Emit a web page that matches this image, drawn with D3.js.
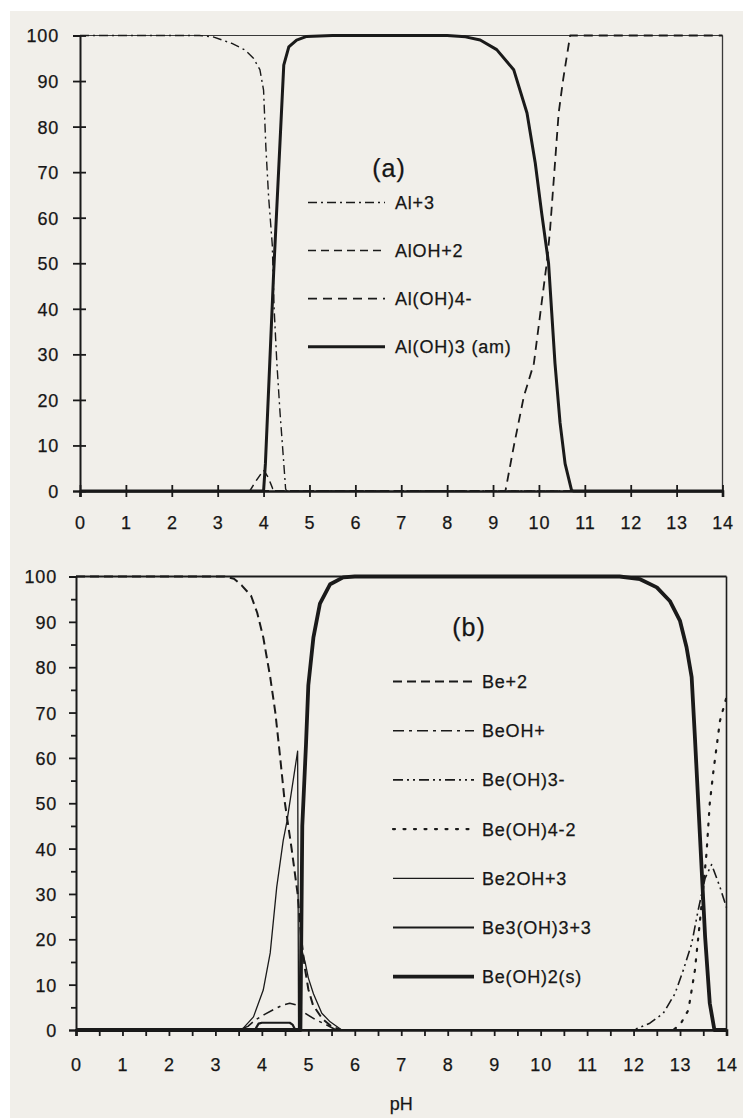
<!DOCTYPE html>
<html><head><meta charset="utf-8">
<script src="https://cdn.jsdelivr.net/npm/d3@7"></script>
<style>
html,body{margin:0;padding:0;background:#fff;}
svg{display:block;}
text{font-family:"Liberation Sans",Arial,Helvetica,sans-serif;fill:#161616;stroke:#161616;stroke-width:0.25px;}
</style></head><body>
<svg id="chart" width="743" height="1118"></svg>
<script>
// ---- axis ticks ----
const pHTicks = d3.range(0, 15);                 // labelled pH ticks
const pHHalfTicks = d3.range(0, 14.01, 0.5);     // panel (b) tick marks
const pctTicks = d3.range(0, 101, 10);           // labelled % ticks
const pctMinorTicks = d3.range(0, 101, 5);       // panel (b) % tick marks

// ---- (a) aluminium speciation: [pH, % of total Al] ----
const al3 = [[0,100],[2.6,100],[2.9,99.7],[3.3,98.3],[3.6,96.8],[3.78,95],[3.92,92.5],[4.0,88],
  [4.05,75.5],[4.11,64.5],[4.19,54],[4.23,40],[4.29,28],[4.36,17],[4.43,7.5],[4.48,0.5],[4.5,0],[14,0]];
const alOH2 = [[0,0],[3.7,0],[3.82,2],[4.0,4.6],[4.1,3],[4.2,0.5],[4.25,0],[14,0]];
const alOH4 = [[0,0],[9.27,0],[9.45,9.7],[9.67,20.7],[9.89,28],[10.03,39],[10.17,50],[10.24,57],
  [10.35,72],[10.43,83],[10.53,90.5],[10.68,100],[14,100]];
const alOH3am = [[0,0],[4.0,0],[4.04,6],[4.22,48],[4.37,79],[4.44,93.5],[4.55,97.5],[4.72,99],
  [4.94,99.8],[5.5,100],[8.0,100],[8.4,99.7],[8.72,99],[9.08,96.9],[9.45,92.5],[9.74,83],[9.92,72],
  [10.06,61],[10.21,50],[10.28,39],[10.35,28],[10.46,15],[10.57,6],[10.71,0.2],[10.75,0],[14,0]];
const alNames = ["Al+3", "AlOH+2", "Al(OH)4-", "Al(OH)3 (am)"];
const alSeries = [al3, alOH2, alOH4, alOH3am];

// ---- (b) beryllium speciation: [pH, % of total Be] ----
const be2 = [[0,100],[3.2,100],[3.4,99.5],[3.57,98],[3.77,95.7],[3.9,92],[4.03,86.6],[4.18,77.8],
  [4.29,70],[4.39,60.5],[4.49,50.5],[4.64,40],[4.77,30],[4.84,21],[4.92,14],[5.0,9],[5.1,5.5],
  [5.3,2.5],[5.5,0.8],[5.7,0],[14,0]];
const beOH = [[0,0],[3.5,0],[3.7,0.8],[3.86,2.2],[4.05,3.4],[4.25,4.5],[4.45,5.5],[4.6,5.9],
  [4.75,5.5],[4.93,3.7],[5.15,2.3],[5.36,1.3],[5.6,0],[14,0]];
const beOH3 = [[0,0],[12.0,0],[12.35,1.5],[12.64,3.7],[12.89,8],[13.07,13.2],[13.25,19],[13.39,26.4],
  [13.54,33.5],[13.68,36.5],[13.86,31.5],[14,27]];
const beOH4 = [[0,0],[12.85,0],[13.0,1.1],[13.18,4.4],[13.32,13.2],[13.43,24.2],[13.5,31.5],
  [13.57,39],[13.64,50],[13.72,57.2],[13.86,68.2],[14,73.4]];
const be2OH3 = [[0,0],[3.5,0],[3.6,0.4],[3.82,2.9],[4.03,8.8],[4.18,17],[4.32,31.5],[4.46,41.8],
  [4.54,46],[4.77,61.5],[4.79,0],[4.83,0],[4.85,18],[4.93,15],[5.0,11.5],[5.11,8],[5.29,3.7],
  [5.47,1.8],[5.72,0],[14,0]];
const be3OH3 = [[0,0],[3.85,0],[3.93,1.4],[4.0,1.6],[4.6,1.6],[4.66,1.2],[4.72,0],[14,0]];
const beOH2s = [[0,0],[4.83,0],[4.87,45],[4.95,63],[5.0,76],[5.11,86.6],[5.25,94],[5.47,98.3],
  [5.75,99.8],[6.0,100],[11.7,100],[12.14,99.4],[12.5,97.6],[12.78,94.6],[13.0,90.2],[13.14,84.4],
  [13.25,77.8],[13.32,64.6],[13.43,42.5],[13.54,20.5],[13.64,5.9],[13.74,0],[14,0]];
const beNames = ["Be+2", "BeOH+", "Be(OH)3-", "Be(OH)4-2", "Be2OH+3", "Be3(OH)3+3", "Be(OH)2(s)"];
const beSeries = [be2, beOH, beOH3, beOH4, be2OH3, be3OH3, beOH2s];

// ---- line styles ----
const alStyles = [
  {w: 1.4, dash: "9,4,2,4"},
  {w: 1.5, dash: "8,5"},
  {w: 1.8, dash: "9,6"},
  {w: 3.0, dash: null}
];
const beStyles = [
  {w: 2.0, dash: "9,5"},
  {w: 1.6, dash: "11,5,3,5"},
  {w: 1.6, dash: "10,4,2,4,2,4"},
  {w: 2.2, dash: "2,8.5"},
  {w: 1.3, dash: null},
  {w: 2.2, dash: null},
  {w: 3.8, dash: null}
];

const svg = d3.select("#chart");
const ink = "#1a1a1a";
const labelFont = "18px";

// scanned page tone
svg.append("rect").attr("width", 743).attr("height", 1118).attr("fill", "#ffffff");
svg.append("rect").attr("x", 10).attr("y", 11).attr("width", 733).attr("height", 1107).attr("fill", "#f1efea");

function drawPanel(opt) {
  const x = d3.scaleLinear().domain([0, 14]).range([opt.left, opt.right]);
  const y = d3.scaleLinear().domain([0, 100]).range([opt.bottom, opt.top]);
  const g = svg.append("g");

  // frame (top and right)
  g.append("line").attr("x1", opt.left).attr("x2", opt.right).attr("y1", opt.top).attr("y2", opt.top)
    .attr("stroke", opt.frameColor).attr("stroke-width", opt.frameTop);
  g.append("line").attr("x1", opt.right).attr("x2", opt.right).attr("y1", opt.top).attr("y2", opt.bottom)
    .attr("stroke", opt.frameColor).attr("stroke-width", opt.frameRight);

  // species curves
  const line = d3.line().x(d => x(d[0])).y(d => y(d[1])).curve(d3.curveLinear);
  opt.series.forEach((s, i) => {
    const st = opt.styles[i];
    g.append("path").attr("d", line(s)).attr("fill", "none").attr("stroke", ink)
      .attr("stroke-width", st.w).attr("stroke-dasharray", st.dash)
      .attr("stroke-linejoin", "round")
      .attr("stroke-linecap", st.dash && st.dash.startsWith("2,") ? "round" : "butt");
  });

  // y axis
  const yAxis = g.append("g").attr("transform", `translate(${opt.left},0)`)
    .call(d3.axisLeft(y).tickValues(opt.yTickVals).tickSize(opt.yTick)
      .tickFormat(d => (d % 10 === 0 ? d : "")));
  yAxis.select(".domain").attr("stroke", ink).attr("stroke-width", 2);
  yAxis.selectAll(".tick line").attr("stroke", ink).attr("stroke-width", 1.8)
    .attr("x1", opt.yTickIn)
    .attr("x2", d => (d % 10 === 0 ? -opt.yTick : -opt.yTick + 2));
  yAxis.selectAll(".tick text").attr("x", opt.yLabelX).attr("dy", "0.36em")
    .style("font-size", labelFont).style("letter-spacing", "0.8px").attr("fill", ink);

  // x axis
  const xAxis = g.append("g").attr("transform", `translate(0,${opt.bottom})`)
    .call(d3.axisBottom(x).tickValues(opt.xTickVals).tickSize(opt.xTick)
      .tickFormat(d => (Number.isInteger(d) ? d : "")));
  xAxis.select(".domain").attr("stroke", ink).attr("stroke-width", 2.6);
  xAxis.selectAll(".tick line").attr("stroke", ink).attr("stroke-width", 1.8).attr("y1", -opt.xTickIn);
  xAxis.selectAll(".tick text").attr("y", opt.xLabelY).attr("dy", "0.36em")
    .style("font-size", labelFont).style("letter-spacing", "0.8px").attr("fill", ink);

  if (opt.xTitle) {
    g.append("text").attr("x", x(7)).attr("y", opt.bottom + opt.xTitleY).attr("dy", "0.36em")
      .attr("text-anchor", "middle").style("font-size", labelFont).text(opt.xTitle);
  }

  // panel tag
  g.append("text").attr("x", opt.tag[1]).attr("y", opt.tag[2]).attr("dy", "0.36em")
    .attr("text-anchor", "middle").style("font-size", "25px").style("letter-spacing", "1px")
    .text(opt.tag[0]);

  // legend
  opt.names.forEach((n, i) => {
    const ly = opt.legY + i * opt.legStep;
    const st = opt.styles[i];
    g.append("line").attr("x1", opt.legX1).attr("x2", opt.legX2).attr("y1", ly).attr("y2", ly)
      .attr("stroke", ink).attr("stroke-width", st.w).attr("stroke-dasharray", st.dash)
      .attr("stroke-linecap", st.dash && st.dash.startsWith("2,") ? "round" : "butt");
    g.append("text").attr("x", opt.legText).attr("y", ly).attr("dy", "0.36em")
      .style("font-size", labelFont).style("letter-spacing", "0.8px").text(n);
  });
}

drawPanel({
  left: 80, right: 722.5, top: 35.5, bottom: 491,
  frameColor: "#3a3a3a", frameTop: 1.2, frameRight: 1.3,
  series: alSeries, styles: alStyles, names: alNames,
  yTickVals: pctTicks, yTick: 7, yTickIn: 6, yLabelX: -21,
  xTickVals: pHTicks, xTick: 6, xTickIn: 6, xLabelY: 32,
  xTitle: null,
  tag: ["(a)", 389, 168],
  legX1: 308, legX2: 385, legText: 395, legY: 202.5, legStep: 48.1
});

drawPanel({
  left: 76, right: 726.5, top: 576.5, bottom: 1030,
  frameColor: "#1c1c1c", frameTop: 2.0, frameRight: 1.6,
  series: beSeries, styles: beStyles, names: beNames,
  yTickVals: pctMinorTicks, yTick: 7, yTickIn: 0, yLabelX: -19,
  xTickVals: pHHalfTicks, xTick: 6, xTickIn: 0, xLabelY: 35,
  xTitle: "pH", xTitleY: 74,
  tag: ["(b)", 469, 627],
  legX1: 393, legX2: 474, legText: 482, legY: 681.5, legStep: 49.2
});
</script>
</body></html>
